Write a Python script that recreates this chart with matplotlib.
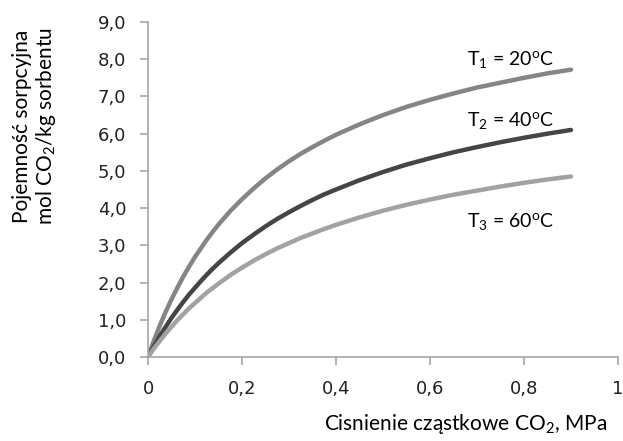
import matplotlib
matplotlib.use("Agg")
import matplotlib.pyplot as plt

# pressure of CO2, MPa
pressure = [0, 0.005, 0.01, 0.015, 0.025, 0.0375, 0.05, 0.0625, 0.075, 0.0875,
            0.1, 0.1125, 0.125, 0.1375, 0.15, 0.175, 0.2, 0.225, 0.25, 0.275,
            0.3, 0.325, 0.35, 0.375, 0.4, 0.45, 0.5, 0.55, 0.6, 0.65,
            0.7, 0.75, 0.8, 0.85, 0.9]

# sorption capacity, mol CO2 / kg sorbent
t1_20c = [0, 0.18, 0.35, 0.52, 0.84, 1.21, 1.55, 1.86, 2.16, 2.43,
          2.69, 2.92, 3.15, 3.36, 3.56, 3.92, 4.24, 4.53, 4.80, 5.04,
          5.26, 5.46, 5.64, 5.81, 5.97, 6.25, 6.50, 6.72, 6.91, 7.08,
          7.24, 7.37, 7.50, 7.62, 7.72]
t2_40c = [0, 0.12, 0.23, 0.34, 0.56, 0.81, 1.05, 1.27, 1.48, 1.68,
          1.86, 2.04, 2.21, 2.37, 2.52, 2.80, 3.06, 3.29, 3.51, 3.71,
          3.89, 4.06, 4.22, 4.37, 4.50, 4.75, 4.97, 5.17, 5.34, 5.50,
          5.64, 5.77, 5.89, 6.00, 6.10]
t3_60c = [0, 0.09, 0.18, 0.27, 0.43, 0.63, 0.81, 0.99, 1.15, 1.31,
          1.45, 1.59, 1.73, 1.85, 1.97, 2.20, 2.40, 2.59, 2.76, 2.92,
          3.06, 3.20, 3.32, 3.44, 3.55, 3.75, 3.93, 4.09, 4.23, 4.36,
          4.47, 4.58, 4.68, 4.77, 4.85]

x_ticks = [0, 0.2, 0.4, 0.6, 0.8, 1]
x_tick_labels = ["0", "0,2", "0,4", "0,6", "0,8", "1"]
y_ticks = list(range(10))
y_tick_labels = ["%d,0" % v for v in y_ticks]

plt.rcParams["mathtext.fontset"] = "custom"
plt.rcParams["mathtext.rm"] = "Lato"
plt.rcParams["mathtext.it"] = "Lato:italic"
plt.rcParams["mathtext.bf"] = "Lato:bold"

fig = plt.figure(figsize=(6.23, 4.41), dpi=100)
ax = fig.add_axes([148 / 623, 1 - 357 / 441, 470 / 623, 335 / 441])

line_kw = dict(lw=3.2, solid_capstyle="round", solid_joinstyle="round")
ax.plot(pressure, t1_20c, color="#858585", **line_kw)
ax.plot(pressure, t2_40c, color="#454545", **line_kw)
ax.plot(pressure, t3_60c, color="#a2a2a2", **line_kw)

ax.set_xlim(0, 1)
ax.set_ylim(0, 9)
ax.set_xticks(x_ticks)
ax.set_xticklabels(x_tick_labels)
ax.set_yticks(y_ticks)
ax.set_yticklabels(y_tick_labels)

for side in ["top", "right"]:
    ax.spines[side].set_visible(False)
for side in ["left", "bottom"]:
    ax.spines[side].set_color("#a6a6a6")
    ax.spines[side].set_linewidth(1.2)
ax.tick_params(axis="both", direction="out", length=5.5, width=1.2,
               color="#a6a6a6", labelsize=13, labelcolor="#222222")
ax.tick_params(axis="x", pad=11)
ax.tick_params(axis="y", pad=10)

# series labels
lbl = dict(fontsize=14, family="Lato", ha="left", va="center", color="black")
ax.text(0.678, 8.0, r"T$_\mathregular{1}$ = 20$^\mathregular{o}$C", **lbl)
ax.text(0.678, 6.35, r"T$_\mathregular{2}$ = 40$^\mathregular{o}$C", **lbl)
ax.text(0.678, 3.65, r"T$_\mathregular{3}$ = 60$^\mathregular{o}$C", **lbl)

ax.set_xlabel(r"Cisnienie cząstkowe CO$_\mathregular{2}$, MPa", family="Lato",
              fontsize=15, ha="right")
ax.xaxis.set_label_coords((607 - 148) / 470, -(412 - 357) / 335)

fig.text(35 / 623, 1 - 126 / 441,
         "Pojemność sorpcyjna\nmol CO$_\\mathregular{2}$/kg sorbentu",
         family="Lato", fontsize=15, rotation=90, ha="center", va="center",
         multialignment="center", linespacing=1.15)

fig.savefig("out.png", dpi=100)
